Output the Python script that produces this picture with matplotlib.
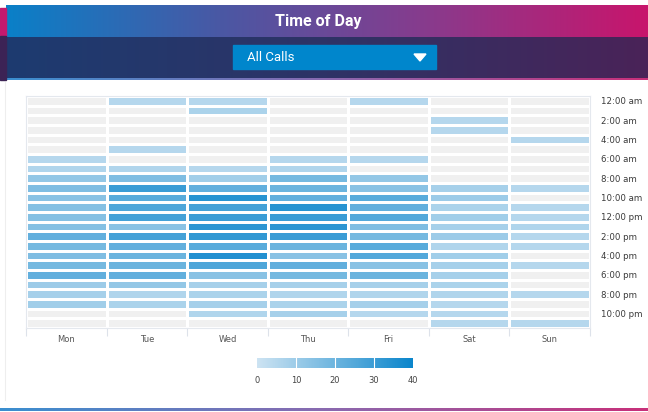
import numpy as np
import matplotlib.pyplot as plt
from matplotlib.colors import LinearSegmentedColormap
from matplotlib.patches import Rectangle, Polygon

# llamadas por hora (filas 0..23) y día; None = sin datos (celda gris)
days = ['Mon', 'Tue', 'Wed', 'Thu', 'Fri', 'Sat', 'Sun']
hour_labels = ['12:00 am', '2:00 am', '4:00 am', '6:00 am', '8:00 am', '10:00 am',
               '12:00 pm', '2:00 pm', '4:00 pm', '6:00 pm', '8:00 pm', '10:00 pm']
N = None
mon = [N, N, N, N, N, N, 5, 6, 12, 16, 14, 15, 15, 15, 22, 18, 16, 18, 22, 10, 8, 9, N, N]
tue = [5, N, N, N, N, 5, N, 6, 16, 30, 24, 26, 28, 14, 28, 22, 20, 20, 22, 12, 6, 7, N, N]
wed = [5, 7, N, N, N, N, N, 5, 9, 22, 34, 28, 30, 33, 32, 24, 35, 26, 14, 8, 7, 8, 6, N]
thu = [N, N, N, N, N, N, 5, 6, 18, 20, 22, 34, 30, 33, 30, 20, 14, 22, 18, 8, 6, 7, 8, N]
fri = [5, N, N, N, N, N, 5, N, 12, 14, 24, 22, 25, 16, 18, 24, 25, 14, 20, 8, 6, 8, 5, N]
sat = [N, N, 5, 5, N, N, N, N, N, 8, 10, 7, 9, 8, 10, 6, 9, 8, 8, 7, 6, 5, 5, 5]
sun = [N, N, N, N, 5, N, N, N, N, 5, N, 5, 5, 6, 5, 5, N, 5, N, N, 5, N, N, 5]

data = np.array([mon, tue, wed, thu, fri, sat, sun], dtype=float).T
vals = np.ma.masked_invalid(data)

cmap = LinearSegmentedColormap.from_list('calls', ['#cde3f2', '#0a85cb'])
cmap.set_bad('#f0f0f0')

fig = plt.figure(figsize=(6.48, 4.12), dpi=100)

# cabecera con degradado
bg = fig.add_axes([0, 0, 1, 1])
bg.set_xlim(0, 648)
bg.set_ylim(412, 0)
bg.axis('off')
grad = np.linspace(0, 1, 256).reshape(1, -1)
top = LinearSegmentedColormap.from_list('top', ['#0a80c8', '#4a58a4', '#8a3a8c', '#c8156c'])
band = LinearSegmentedColormap.from_list('band', ['#1d3b70', '#2e3366', '#4a2358'])
line = LinearSegmentedColormap.from_list('line', ['#3a8fd0', '#8a6ab0', '#c8307a'])
bg.imshow(grad, cmap=top, extent=[6, 648, 37, 5], aspect='auto')
bg.imshow(grad, cmap=band, extent=[6, 648, 78, 37], aspect='auto')
bg.imshow(grad, cmap=line, extent=[6, 648, 80, 78], aspect='auto')
bg.imshow(grad, cmap=line, extent=[0, 648, 411, 408], aspect='auto')
bg.add_patch(Rectangle((0, 8), 6, 28, color='#c4196e'))
bg.add_patch(Rectangle((0, 36), 6, 44, color='#3c2355'))
bg.plot([5, 5], [82, 400], color='#eeeeee', lw=0.8)
bg.text(318, 21, 'Time of Day', color='white', fontsize=11.5, fontweight='bold',
        ha='center', va='center', family='Roboto')
bg.add_patch(Rectangle((233, 45), 203, 24, color='#0086cc'))
bg.text(247, 57.5, 'All Calls', color='white', fontsize=9.5, ha='left', va='center',
        family='Roboto')
bg.add_patch(Polygon([[414, 54], [426, 54], [420, 61]], color='white'))

# mapa de calor
ax = fig.add_axes([26 / 648, 1 - 328 / 412, 564 / 648, 232 / 412])
mesh = ax.pcolormesh(vals, cmap=cmap, vmin=0, vmax=40, edgecolors='white', linewidth=1.8)
ax.set_ylim(24, 0)
ax.set_xlim(0, 7)
for s in ax.spines.values():
    s.set_color('#e4e8ee')
    s.set_linewidth(0.8)
ax.set_xticks(np.arange(8), minor=True)
ax.set_xticks(np.arange(7) + 0.5)
ax.set_xticklabels(days, fontsize=6, color='#555555')
ax.tick_params(axis='x', which='major', length=0, pad=5)
ax.tick_params(axis='x', which='minor', length=6, color='#dde2ea', width=0.8)
ax.yaxis.tick_right()
ax.set_yticks(np.arange(0, 24, 2) + 0.5)
ax.set_yticklabels(hour_labels, fontsize=6.2, color='#3a3a3a')
ax.tick_params(axis='y', length=0, pad=8)

# barra de color
cax = fig.add_axes([257 / 648, 1 - 368 / 412, 156 / 648, 10 / 412])
cb = fig.colorbar(mesh, cax=cax, orientation='horizontal', ticks=[0, 10, 20, 30, 40])
cb.outline.set_visible(False)
for v in [10, 20, 30]:
    cax.axvline(v, color='white', lw=0.8)
cax.tick_params(length=0, labelsize=6, colors='#444444', pad=6)

plt.savefig('out.png', dpi=100)
